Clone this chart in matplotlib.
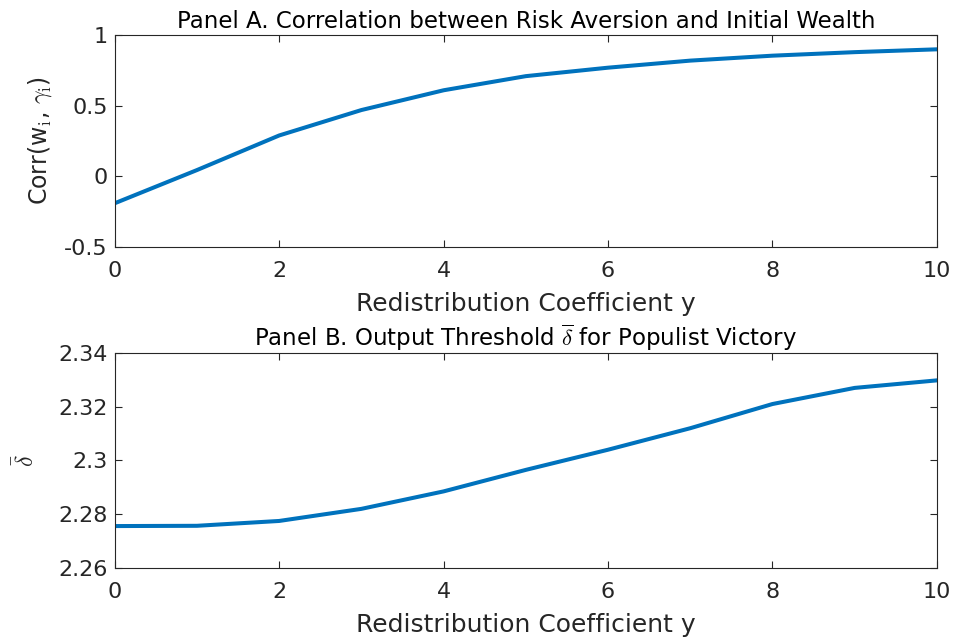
import matplotlib
matplotlib.use("Agg")
import matplotlib.pyplot as plt

plt.rcParams['font.family'] = ['DejaVu Sans']
plt.rcParams['mathtext.fontset'] = 'cm'

# redistribution coefficient grid
y_coef = [0, 1, 2, 3, 4, 5, 6, 7, 8, 9, 10]

# Panel A: correlation between risk aversion and initial wealth
corr_w_gamma = [-0.19, 0.045, 0.29, 0.47, 0.61, 0.71, 0.77, 0.82, 0.855, 0.88, 0.90]

# Panel B: output threshold delta-bar
delta_bar = [2.2756, 2.2757, 2.2775, 2.282, 2.2885, 2.2965, 2.304, 2.312, 2.321, 2.327, 2.3298]

line_color = '#0072BD'
axis_color = '#262626'

fig = plt.figure(figsize=(9.56, 6.4), dpi=100)
ax1 = fig.add_axes([0.120, 0.614, 0.860, 0.331])
ax2 = fig.add_axes([0.120, 0.1125, 0.860, 0.336])

def style_axes(ax):
    ax.tick_params(direction='in', top=True, right=True, labelsize=16,
                   colors=axis_color, length=5, width=0.8, pad=5)
    ax.tick_params(axis='x', pad=10)
    for s in ax.spines.values():
        s.set_color(axis_color)
        s.set_linewidth(0.8)
    ax.set_xlim(0, 10)
    ax.set_xticks([0, 2, 4, 6, 8, 10])
    ax.set_xlabel('Redistribution Coefficient y', fontsize=18, color=axis_color, labelpad=8)

ax1.plot(y_coef, corr_w_gamma, color=line_color, linewidth=2.9)
style_axes(ax1)
ax1.set_ylim(-0.5, 1)
ax1.set_yticks([-0.5, 0, 0.5, 1])
ax1.set_yticklabels(['-0.5', '0', '0.5', '1'])
ax1.set_ylabel(r'Corr(w$_{\rm i}$, $\gamma_{\rm i}$)', fontsize=17, color=axis_color, labelpad=7)
ax1.set_title('Panel A. Correlation between Risk Aversion and Initial Wealth',
              fontsize=16.5, color='black', pad=5)

ax2.plot(y_coef, delta_bar, color=line_color, linewidth=2.9)
style_axes(ax2)
ax2.set_ylim(2.26, 2.34)
ax2.set_yticks([2.26, 2.28, 2.30, 2.32, 2.34])
ax2.set_yticklabels(['2.26', '2.28', '2.3', '2.32', '2.34'])
ax2.set_ylabel(r'$\bar{\delta}$', fontsize=17, color=axis_color, labelpad=14)
ax2.set_title(r'Panel B. Output Threshold $\overline{\delta}$ for Populist Victory',
              fontsize=16.5, color='black', pad=5)

fig.savefig('out.png', dpi=100)
